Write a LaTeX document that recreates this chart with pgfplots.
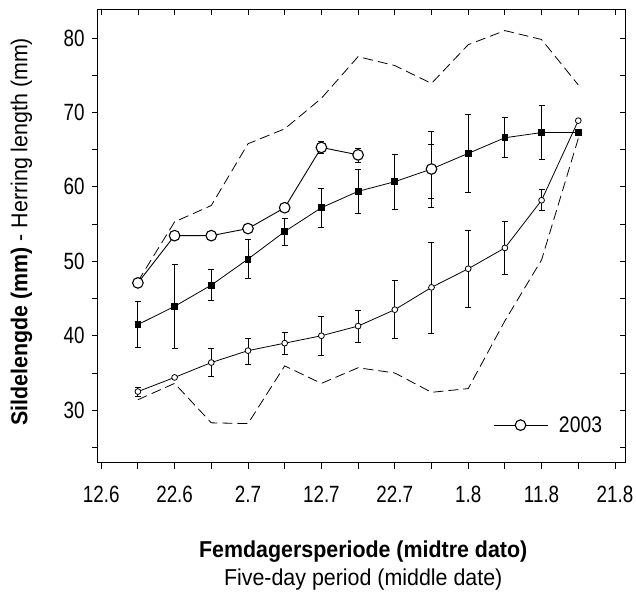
\documentclass[border=0pt]{standalone}
\usepackage{fontspec}
\setmainfont{Liberation Sans}[FakeStretch=0.93]
\newfontfamily\tickfont{Liberation Sans}[FakeStretch=0.8]
\newfontfamily\legfont{Liberation Sans}[FakeStretch=0.86]
\usepackage{pgfplots}
\pgfplotsset{compat=1.18}
\usepackage{pgfplotstable}

\pgfplotstableread{
x y ep em
5 47.1 0 0
10 53.45 0 0
15 53.45 0 0
20 54.4 0 0
25 57.2 0 0
30 65.3 0.8 0.8
35 64.3 0.9 1.0
}\dataA
\pgfplotstableread{
x y ep em
45 62.4 3.3 3.9
}\dataAb
\pgfplotstableread{
x y ep em
5 41.5 3.1 3.0
10 43.95 5.65 5.65
15 46.8 2.1 2.1
20 50.3 2.6 2.6
25 54.0 1.8 1.8
30 57.2 2.6 2.7
35 59.4 3.0 3.0
40 60.7 3.6 3.7
45 62.4 5.1 5.1
50 64.5 5.3 5.3
55 66.6 2.7 2.7
60 67.3 3.6 3.6
65 67.3 0 0
}\dataB
\pgfplotstableread{
x y ep em
5 32.5 0.6 0.6
10 34.4 0 0
15 36.4 1.85 1.8
20 38.0 1.7 1.8
25 39.0 1.5 1.5
30 40.0 2.6 2.65
35 41.3 2.15 2.15
40 43.5 3.9 3.9
45 46.5 6.1 6.2
50 49.0 5.2 5.15
55 51.8 3.5 3.5
60 58.2 1.5 1.4
65 68.9 0 0
}\dataC
\pgfplotstableread{
x y
5 47.3
10 55.3
15 57.5
20 65.8
25 67.8
30 71.9
35 77.5
40 76.3
45 73.9
50 79.1
55 81.0
60 79.8
65 73.7
}\dataMax
\pgfplotstableread{
x y
5 31.4
10 33.6
15 28.3
20 28.2
25 35.95
30 33.6
35 35.7
40 35.0
45 32.4
50 32.9
55 42.0
60 50.2
65 66.5
}\dataMin

\begin{document}
\begin{tikzpicture}
\pgfplotsset{
  common/.style={
    scale only axis, width=528pt, height=453.5pt,
    xmin=-0.5, xmax=71.46, ymin=22.95, ymax=83.9,
    xtick={0,10,...,70}, minor xtick={5,15,...,65},
    ytick={30,40,...,80}, minor ytick={25,35,...,75},
    major tick length=6pt, minor tick length=6pt,
    tick style={black, line width=0.8pt},
    axis line style={line width=0.9pt},
  },
  ebar/.style={draw=none, mark=none, forget plot,
    error bars/.cd, y dir=both, y explicit,
    error bar style={line width=0.8pt, black, solid},
    error mark options={rotate=90, mark size=3pt, line width=0.8pt, black, solid}},
}
\begin{axis}[common, name=ax,
  tick align=outside, xtick pos=left, ytick pos=left,
  xticklabels={12.6,22.6,2.7,12.7,22.7,1.8,11.8,21.8},
  /pgf/number format/assume math mode=true,
  xticklabel style={font=\tickfont\fontsize{23.5}{27}\selectfont},
  yticklabel style={font=\tickfont\fontsize{23.5}{27}\selectfont},
  xticklabel shift=13.5pt, yticklabel shift=3.5pt,
  xlabel={\textbf{Femdagersperiode (midtre dato)}\\Five-day period (middle date)},
  xlabel style={font=\fontsize{23}{28}\selectfont, align=center, at={(axis description cs:0.503,-0.226)}, anchor=center},
  ylabel={\textbf{Sildelengde (mm)} - Herring length (mm)},
  ylabel style={font=\fontsize{23}{28}\selectfont, at={(axis description cs:-0.144,0.509)}, anchor=center},
  legend image code/.code={\draw[mark repeat=2,mark phase=2,#1] plot coordinates {(0pt,0pt) (27pt,0pt) (54pt,0pt)};},
  legend style={draw=none, fill=none, inner sep=0pt, font=\legfont\fontsize{22.5}{26}\selectfont,
    at={(axis description cs:0.7485,0.0827)}, anchor=west},
  legend cell align=left,
]
\addplot[black, line width=0.8pt, dash pattern=on 10pt off 5pt, forget plot] table[x=x,y=y] {\dataMax};
\addplot[black, line width=0.8pt, dash pattern=on 10pt off 5pt, forget plot] table[x=x,y=y] {\dataMin};
% error bars first
\addplot[ebar] table[x=x,y=y,y error plus=ep,y error minus=em] {\dataC};
\addplot[ebar] table[x=x,y=y,y error plus=ep,y error minus=em] {\dataB};
\addplot[ebar] table[x=x,y=y,y error plus=ep,y error minus=em] {\dataAb};
\addplot[ebar] table[x=x,y=y,y error plus=ep,y error minus=em] {\dataA};
% lines and marks
\addplot[black, line width=0.8pt, mark=*, mark size=2.9pt, mark options={fill=white, draw=black, solid, line width=0.8pt}, forget plot]
  table[x=x,y=y] {\dataC};
\addplot[black, line width=0.8pt, mark=square*, mark size=2.9pt, mark options={solid}, forget plot]
  table[x=x,y=y] {\dataB};
\addplot[black, line width=0.9pt, mark=*, mark size=5.3pt, mark options={fill=white, draw=black, solid, line width=1.1pt}, forget plot]
  table[x=x,y=y] {\dataAb};
\addplot[black, line width=0.9pt, mark=*, mark size=5.3pt, mark options={fill=white, draw=black, solid, line width=1.1pt}]
  table[x=x,y=y] {\dataA};
\addlegendentry{\hspace{9pt}2003}
\end{axis}
\begin{axis}[common, tick align=inside, xtick pos=right, ytick pos=right,
  xticklabels={}, yticklabels={}]
\end{axis}
\pgfresetboundingbox
\path[use as bounding box] ([shift={(-97.5pt,-134.5pt)}]ax.south west) rectangle ([shift={(10.3pt,9pt)}]ax.north east);
\end{tikzpicture}
\end{document}
